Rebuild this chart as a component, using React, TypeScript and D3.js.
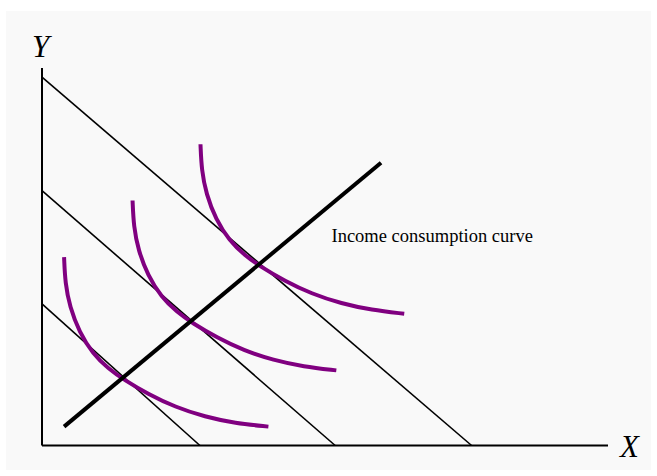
import React from 'react';
import * as d3 from 'd3';

// budget lines: [y-intercept, x-intercept] in chart units
const budgetLines = [
  { yInt: 37.5, xInt: 27.9 },
  { yInt: 67.5, xInt: 51.8 },
  { yInt: 97.6, xInt: 75.9 },
];

// income consumption curve end points
const iccPoints: [number, number][] = [
  [3.9, 5.0],
  [59.9, 74.9],
];

// indifference curves
const ic1: [number, number][] = [
  [3.9, 49.9], [4.1, 43.0], [4.9, 36.8], [6.6, 30.0], [9.0, 24.3], [11.7, 20.4],
  [14.5, 17.4], [18.8, 13.6], [23.5, 10.2], [28.8, 7.6], [34.1, 5.9], [40.0, 5.0],
];
const ic2: [number, number][] = [
  [16.0, 64.9], [16.2, 58.0], [17.0, 51.8], [18.7, 45.0], [21.1, 39.3], [23.8, 35.4],
  [26.6, 32.4], [30.9, 28.6], [35.6, 25.2], [40.9, 22.6], [46.2, 20.9], [52.0, 19.9],
];
const ic3: [number, number][] = [
  [28.0, 79.8], [28.2, 72.9], [29.0, 66.7], [30.7, 59.9], [33.1, 54.3], [35.8, 50.4],
  [38.6, 47.4], [42.9, 43.6], [47.6, 40.2], [52.9, 37.6], [58.2, 35.9], [64.0, 34.9],
];
const indifferenceCurves = [ic1, ic2, ic3];

const iccLabel = 'Income consumption curve';

const W = 657;
const H = 476;

const App = () => {
  const x = d3.scaleLinear().domain([0, 100]).range([42, 608]);
  const y = d3.scaleLinear().domain([0, 100]).range([445.5, 68]);

  const line = d3.line<[number, number]>()
    .x((d) => x(d[0]))
    .y((d) => y(d[1]));
  const smooth = d3.line<[number, number]>()
    .x((d) => x(d[0]))
    .y((d) => y(d[1]))
    .curve(d3.curveBasis);

  const serif = '"Liberation Serif", "Times New Roman", serif';

  return (
    <svg width={W} height={H} style={{ position: 'absolute', left: 0, top: 0, background: '#fff' }}>
      <rect x={6} y={11} width={645} height={459} fill="#f9f9f9" />

      {/* axes */}
      <line x1={x(0)} y1={y(0)} x2={x(0)} y2={y(100)} stroke="#000" strokeWidth={2} />
      <line x1={x(0)} y1={y(0)} x2={x(100)} y2={y(0)} stroke="#000" strokeWidth={2} />

      {budgetLines.map((b, i) => (
        <path
          key={`b${i}`}
          d={line([[0, b.yInt], [b.xInt, 0]]) || ''}
          fill="none"
          stroke="#000"
          strokeWidth={1.6}
        />
      ))}

      {indifferenceCurves.map((c, i) => (
        <path
          key={`ic${i}`}
          d={smooth(c) || ''}
          fill="none"
          stroke="#800080"
          strokeWidth={4}
        />
      ))}

      <path d={line(iccPoints) || ''} fill="none" stroke="#000" strokeWidth={4} />

      <text x={331.5} y={241.5} fontFamily={serif} fontSize={18.5} fill="#000">{iccLabel}</text>
      <text x={40.5} y={57} textAnchor="middle" fontFamily={serif} fontStyle="italic" fontSize={31} fill="#000">Y</text>
      <text x={620} y={457} fontFamily={serif} fontStyle="italic" fontSize={31} fill="#000">X</text>
    </svg>
  );
};

export default App;
